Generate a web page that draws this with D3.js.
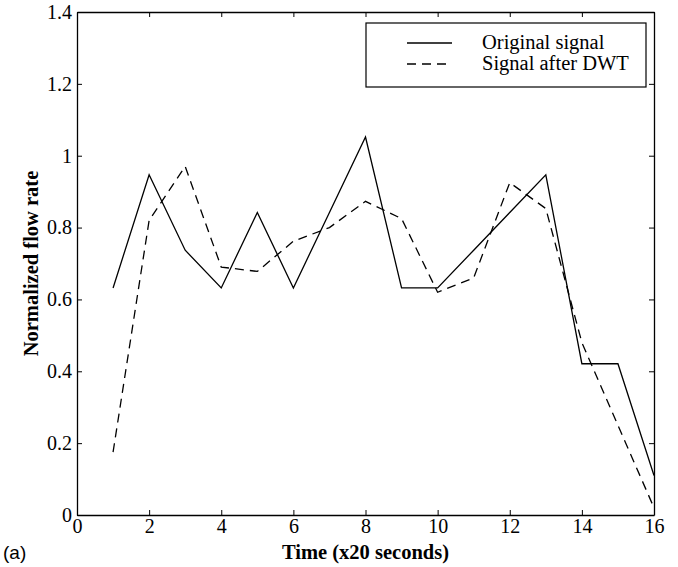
<!DOCTYPE html>
<meta charset="utf-8">
<style>
body{margin:0;background:#fff;}
text{font-family:"Liberation Serif","Times New Roman",serif;fill:#000;}
.axtitle{font-size:20.5px;font-weight:bold;}
.legend text{font-size:20.5px;}
</style>
<body>
<script src="https://d3js.org/d3.v7.min.js"></script>
<script>
// time steps (x20 s)
var time = [1,2,3,4,5,6,7,8,9,10,11,12,13,14,15,16];
// normalised flow rate, original signal
var original = [0.632,0.947,0.737,0.632,0.842,0.632,0.842,1.052,0.632,0.632,0.737,0.842,0.947,0.421,0.421,0.11];
// signal after DWT
var afterDwt = [0.175,0.82,0.97,0.69,0.678,0.762,0.80,0.873,0.825,0.62,0.66,0.925,0.853,0.48,0.25,0.02];
var xTicks = [0,2,4,6,8,10,12,14,16];
var yTicks = [0,0.2,0.4,0.6,0.8,1,1.2,1.4];
var seriesNames = ["Original signal","Signal after DWT"];

var W = 678, H = 567;
var m = {left:77, right:24, top:12, bottom:52};

var svg = d3.select("body").append("svg").attr("width",W).attr("height",H);

var x = d3.scaleLinear().domain([0,16]).range([m.left, W-m.right]);
var y = d3.scaleLinear().domain([0,1.4]).range([H-m.bottom, m.top]);

var fmt = d => d===0 ? "0" : (d===1 ? "1" : d3.format(".1f")(d));

// axes, ticks pointing inward like matlab
svg.append("g").attr("transform","translate(0,"+y(0)+")")
   .call(d3.axisBottom(x).tickValues(xTicks).tickSizeInner(-5).tickSizeOuter(0).tickPadding(4).tickFormat(d3.format("d")));
svg.append("g").attr("transform","translate(0,"+y(1.4)+")")
   .call(d3.axisTop(x).tickValues(xTicks).tickSizeInner(-5).tickSizeOuter(0).tickFormat(""));
svg.append("g").attr("transform","translate("+x(0)+",0)")
   .call(d3.axisLeft(y).tickValues(yTicks).tickSizeInner(-5).tickSizeOuter(0).tickPadding(5).tickFormat(fmt));
svg.append("g").attr("transform","translate("+x(16)+",0)")
   .call(d3.axisRight(y).tickValues(yTicks).tickSizeInner(-5).tickSizeOuter(0).tickFormat(""));

svg.selectAll(".domain").attr("stroke","#000").attr("stroke-width",1.3);
svg.selectAll(".tick line").attr("stroke","#000").attr("stroke-width",1);
svg.selectAll(".tick text").style("font-family","Liberation Serif").style("font-size","20px");

var line = d3.line().x((d,i)=>x(time[i])).y(d=>y(d));

svg.append("path").datum(original).attr("d",line)
   .attr("fill","none").attr("stroke","#000").attr("stroke-width",1.3);
svg.append("path").datum(afterDwt).attr("d",line)
   .attr("fill","none").attr("stroke","#000").attr("stroke-width",1.3)
   .attr("stroke-dasharray","9,6");

// axis titles
svg.append("text").attr("class","axtitle").attr("x",(x(0)+x(16))/2).attr("y",559)
   .attr("text-anchor","middle").text("Time (x20 seconds)");
svg.append("text").attr("class","axtitle")
   .attr("transform","translate(38,"+((y(0)+y(1.4))/2)+") rotate(-90)")
   .attr("text-anchor","middle").text("Normalized flow rate");

// panel label
svg.append("text").attr("x",3).attr("y",559)
   .style("font-family","Liberation Sans, Arial, sans-serif").style("font-size","19px").text("(a)");

// legend
var lg = svg.append("g").attr("class","legend");
lg.append("rect").attr("x",366).attr("y",23).attr("width",280).attr("height",64)
  .attr("fill","#fff").attr("stroke","#000").attr("stroke-width",1.2);
seriesNames.forEach(function(s,i){
   var yy = 43 + i*21;
   lg.append("line").attr("x1",407).attr("x2",452).attr("y1",yy).attr("y2",yy)
     .attr("stroke","#000").attr("stroke-width",1.3)
     .attr("stroke-dasharray", i===1 ? "9,6" : null);
   lg.append("text").attr("x",482).attr("y",yy+6).text(s);
});
</script>
</body>
